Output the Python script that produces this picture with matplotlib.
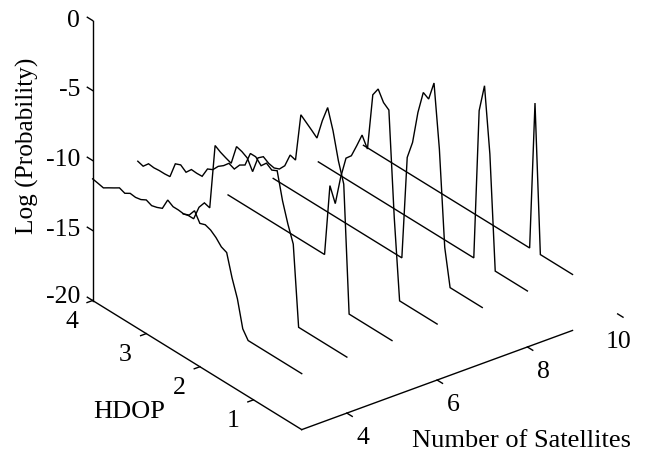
import numpy as np
import matplotlib
matplotlib.use('Agg')
import matplotlib.pyplot as plt
from mpl_toolkits.mplot3d import proj3d

plt.rcParams['font.family'] = ['Liberation Serif', 'DejaVu Serif']

FLOOR = -16.0

# one curve per satellite count, hdop runs 4.0 -> 0.1
sats = [3, 4, 5, 6, 7, 8, 9]
hdop = np.round(np.arange(4.0, 0.05, -0.1), 1)

log_p_3 = [-11.31, -11.39, -11.48, -11.24, -11.01, -10.77, -10.92, -10.69, -10.74, -10.66,
           -10.45, -10.62, -10.51, -10.34, -9.51, -9.75, -9.75, -9.8, -9.64, -9.09,
           -9.76, -9.62, -9.76, -10.06, -10.49, -10.66, -12.23, -13.49, -15.4] + [FLOOR] * 11
log_p_4 = [-11.23, -11.35, -10.94, -10.99, -10.95, -10.95, -10.91, -9.76, -9.6, -9.89,
           -9.46, -9.49, -9.47, -8.71, -8.52, -8.05, -7.76, -7.36, -7.53, -7.01,
           -6.77, -5.71, -5.71, -6.11, -5.69, -5.95, -5.76, -7.67, -9.1, -10.29] + [FLOOR] * 10
log_p_5 = [-16.16, -16.05, -16.05, -14.99, -14.44, -14.56, -9.87, -10.11, -10.28, -10.43,
           -9.0, -9.12, -9.34, -10.08, -8.86, -8.54, -8.78, -8.87, -8.71, -8.24,
           -7.24, -7.36, -3.89, -4.2, -4.51, -4.84, -3.37, -2.19, -3.61, -5.52,
           -6.95] + [FLOOR] * 9
log_p_6 = [FLOOR] * 19 + [-10.84, -11.89, -9.78, -8.17, -7.76, -6.81, -5.81, -6.57, -2.46,
                          -1.81, -2.54, -2.84, -10.28] + [FLOOR] * 8
log_p_7 = [FLOOR] * 25 + [-8.59, -7.28, -4.9, -3.24, -3.47, -2.09, -6.57, -13.36] + [FLOOR] * 7
log_p_8 = [FLOOR] * 30 + [-5.25, -3.23, -7.87] + [FLOOR] * 7
log_p_9 = [FLOOR] * 32 + [-5.41] + [FLOOR] * 7
curves = [log_p_3, log_p_4, log_p_5, log_p_6, log_p_7, log_p_8, log_p_9]

sat_ticks = [4, 6, 8, 10]
hdop_ticks = [1, 2, 3, 4]
logp_ticks = [-20, -15, -10, -5, 0]

SAT_MIN, SAT_MAX, SAT_AXIS_END = 3, 10, 9
HDOP_MIN, HDOP_MAX = 0.1, 4
Z_MIN, Z_MAX = -20, 0

W, H = 647, 453
fig = plt.figure(figsize=(W / 100, H / 100), dpi=100)
side = 596.6
ax = fig.add_axes([48.8 / W, -20.6 / H, side / W, side / H], projection='3d')
ax.set_proj_type('ortho')
ax.view_init(elev=28.4, azim=-127.6)
ax.set_box_aspect((398.7, 342.6, 318.2))
ax.set_xlim(SAT_MIN, SAT_MAX)
ax.set_ylim(HDOP_MIN, HDOP_MAX)
ax.set_zlim(Z_MIN, Z_MAX)
ax.set_axis_off()


def line(xs, ys, zs):
    ax.plot(xs, ys, zs, color='black', lw=1.0, solid_joinstyle='miter')


def label(x, y, z, text, ha='center'):
    # plain 2d text at the projected position of a 3d point
    x2, y2, _ = proj3d.proj_transform(x, y, z, ax.get_proj())
    ax.text2D(x2, y2, text, transform=ax.transData, fontsize=18.5, ha=ha, va='center')


for s, log_p in zip(sats, curves):
    line([s] * len(hdop), hdop, log_p)

# axis lines
line([SAT_MIN, SAT_AXIS_END], [HDOP_MIN, HDOP_MIN], [Z_MIN, Z_MIN])
line([SAT_MIN, SAT_MIN], [HDOP_MIN, HDOP_MAX], [Z_MIN, Z_MIN])
line([SAT_MIN, SAT_MIN], [HDOP_MAX, HDOP_MAX], [Z_MIN, Z_MAX])

# ticks and their labels
for s in sat_ticks:
    line([s, s], [HDOP_MIN, HDOP_MIN - 0.1], [Z_MIN, Z_MIN])
    if s == 10:
        label(s - 0.33, HDOP_MIN - 0.3, Z_MIN - 0.93, str(s))
    else:
        label(s, HDOP_MIN - 0.3, Z_MIN - 1.05, str(s))
for h in hdop_ticks:
    line([SAT_MIN, SAT_MIN - 0.125], [h, h], [Z_MIN, Z_MIN])
    label(SAT_MIN - 0.46, h, Z_MIN - 0.96, str(h))
for z in logp_ticks:
    line([SAT_MIN, SAT_MIN], [HDOP_MAX, HDOP_MAX + 0.1], [z, z])
    z_off = -0.29 if z == Z_MIN else -0.54
    label(SAT_MIN, HDOP_MAX + 0.23, z + z_off, str(z), ha='right')

fig.text(521 / W, 1 - 441 / H, 'Number of Satellites', fontsize=19, ha='center', va='center')
fig.text(129 / W, 1 - 412 / H, 'HDOP', fontsize=19, ha='center', va='center')
fig.text(27 / W, 1 - 146 / H, 'Log (Probability)', fontsize=18.2, rotation=90, ha='center', va='center')

fig.savefig('out.png', dpi=100)
